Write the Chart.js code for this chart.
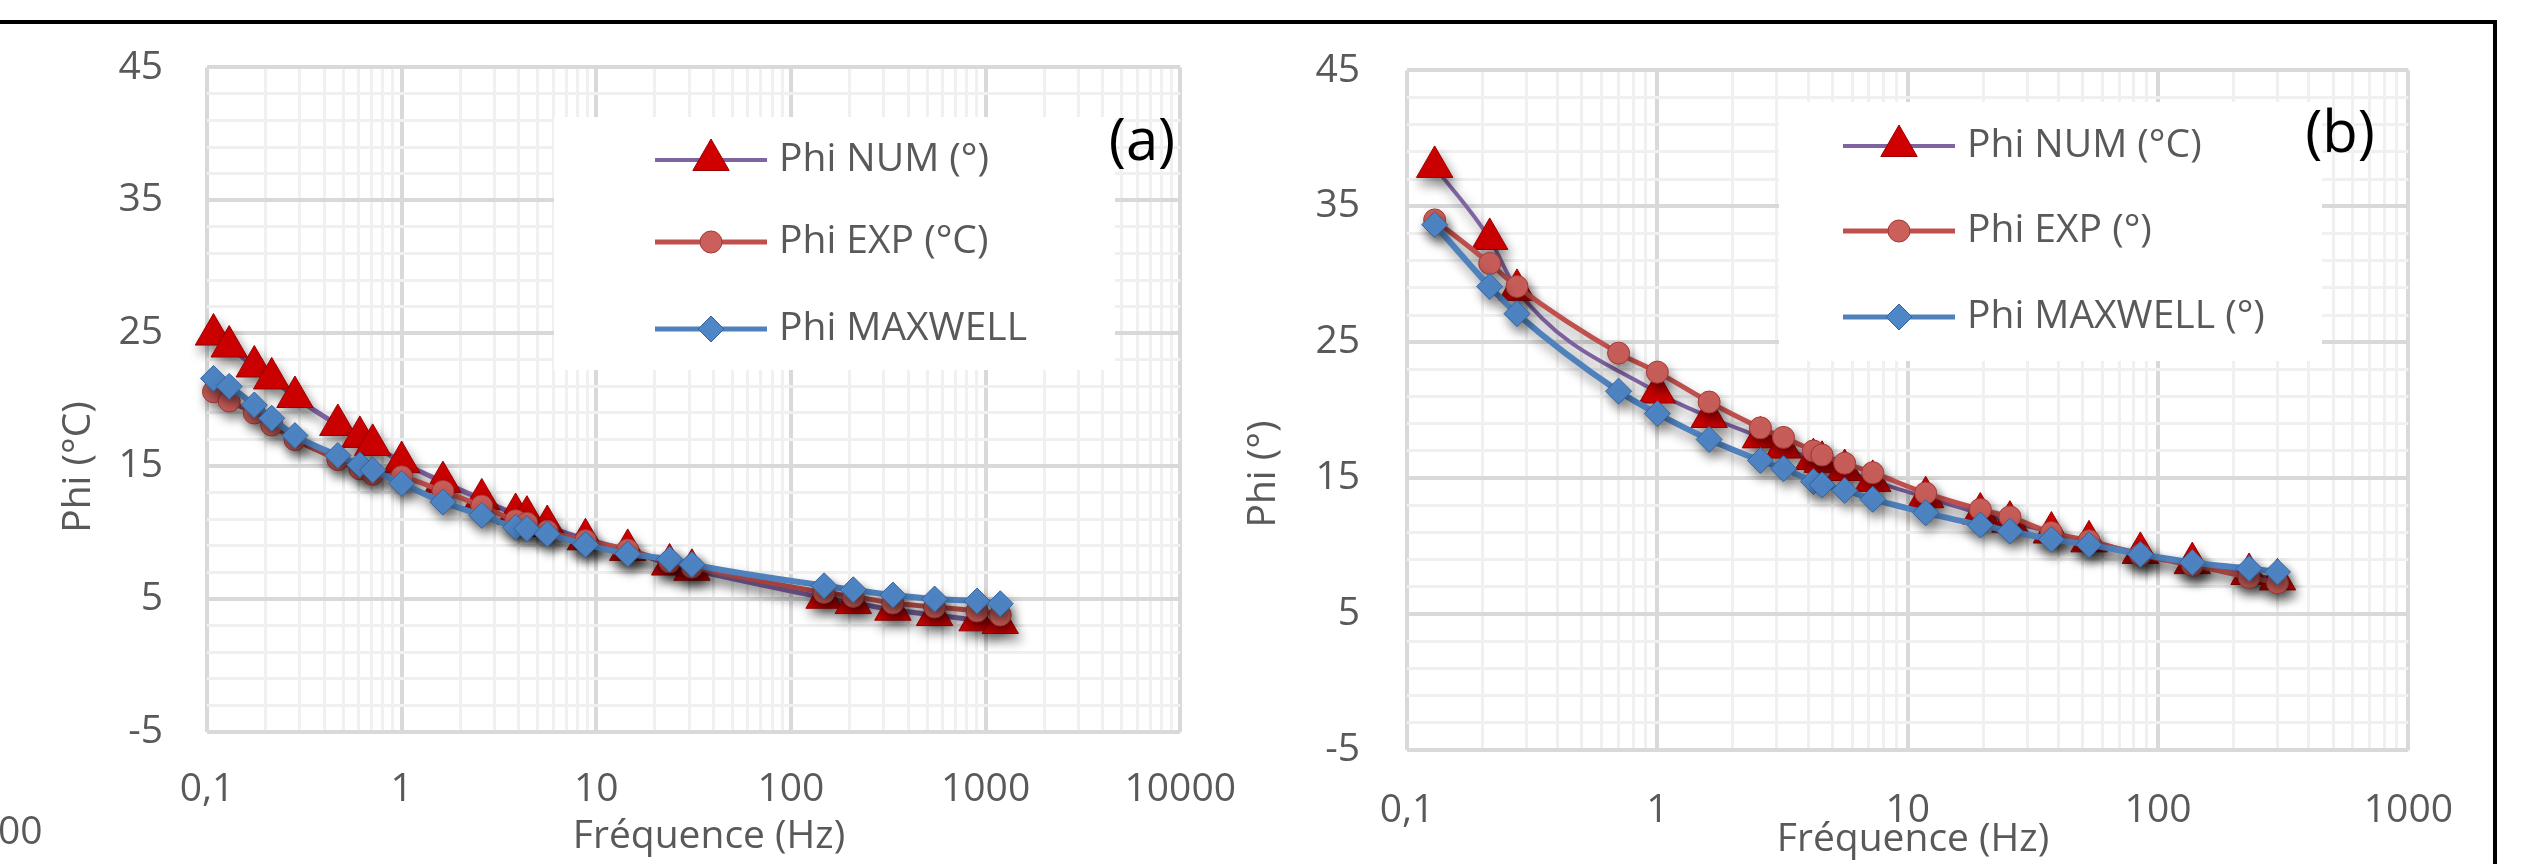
<!DOCTYPE html>
<html lang="fr">
<head>
    <meta charset="UTF-8">
    <title>Phi en fonction de la fréquence</title>
    <script src="https://cdn.jsdelivr.net/npm/chart.js"></script>
    <style>
        html, body {
            margin: 0;
            padding: 0;
            background: #fff;
        }
        body {
            width: 2532px;
            height: 864px;
            position: relative;
            overflow: hidden;
        }
        #frameTop {
            position: absolute;
            left: 0;
            top: 20px;
            width: 2497px;
            height: 4px;
            background: #000;
        }
        #frameRight {
            position: absolute;
            left: 2493px;
            top: 20px;
            width: 4px;
            height: 844px;
            background: #000;
        }
        canvas {
            position: absolute;
            top: 0;
        }
        #chartA { left: 0; }
        #chartB { left: 1230px; }
    </style>
</head>
<body>
    <div id="frameTop"></div>
    <div id="frameRight"></div>
    <canvas id="chartA" width="1270" height="864"></canvas>
    <canvas id="chartB" width="1260" height="864"></canvas>

    <script>
        // ---- chart (a) values ----
        const freqA = [0.108, 0.13, 0.175, 0.215, 0.283, 0.47, 0.61, 0.71, 1.0, 1.63, 2.58, 3.85, 4.4, 5.6, 8.8, 14.5, 23.8, 31, 148, 209, 334, 547, 904, 1189];
        const numA = [24.9, 24.0, 22.5, 21.6, 20.2, 18.1, 17.2, 16.6, 15.3, 13.8, 12.5, 11.4, 11.2, 10.5, 9.5, 8.7, 7.6, 7.2, 5.1, 4.7, 4.2, 3.8, 3.4, 3.2];
        const expA = [20.6, 19.9, 19.0, 18.1, 17.0, 15.5, 14.8, 14.4, 14.2, 13.1, 12.0, 10.9, 10.7, 10.1, 9.4, 8.7, 7.8, 7.4, 5.5, 5.2, 4.7, 4.4, 4.1, 3.8];
        const maxA = [21.6, 21.0, 19.6, 18.6, 17.3, 15.8, 15.1, 14.7, 13.7, 12.3, 11.3, 10.4, 10.3, 9.9, 9.1, 8.4, 8.0, 7.6, 6.0, 5.7, 5.3, 5.0, 4.85, 4.65];

        // ---- chart (b) values ----
        const freqB = [0.129, 0.214, 0.275, 0.70, 1.0, 1.61, 2.58, 3.19, 4.2, 4.55, 5.6, 7.25, 11.8, 19.5, 25.6, 37.5, 53, 85, 137, 231, 300];
        const freqBNum = [0.129, 0.214, 0.275, 1.0, 1.61, 2.58, 3.19, 4.2, 4.55, 5.6, 7.25, 11.8, 19.5, 25.6, 37.5, 53, 85, 137, 231, 300];
        const numB = [37.9, 32.6, 28.85, 21.3, 19.5, 18.0, 17.25, 16.4, 16.2, 15.6, 14.8, 13.6, 12.4, 11.8, 11.0, 10.35, 9.5, 8.75, 7.95, 7.55];
        const expB = [34.0, 30.8, 29.1, 24.2, 22.8, 20.6, 18.7, 18.0, 17.0, 16.7, 16.1, 15.4, 13.9, 12.7, 12.15, 11.0, 10.4, 9.35, 8.6, 7.7, 7.3];
        const maxB = [33.65, 29.1, 27.1, 21.4, 19.75, 17.85, 16.3, 15.7, 14.75, 14.5, 14.1, 13.45, 12.45, 11.55, 11.1, 10.5, 10.1, 9.4, 8.8, 8.35, 8.1];

        // ---- axes ----
        const decadesA = [0.1, 1, 10, 100, 1000, 10000];
        const decadeLabelsA = ['0,1', '1', '10', '100', '1000', '10000'];
        const decadesB = [0.1, 1, 10, 100, 1000];
        const decadeLabelsB = ['0,1', '1', '10', '100', '1000'];
        const yMin = -5, yMax = 45, yMinorStep = 2, yMajorStep = 10;

        const legendA = ['Phi NUM (°)', 'Phi EXP (°C)', 'Phi MAXWELL'];
        const legendB = ['Phi NUM (°C)', 'Phi EXP (°)', 'Phi MAXWELL (°)'];

        const TEXT = '#595959';
        const FONT = '"Open Sans", sans-serif';
        const GRID_MAJOR = '#d9d9d9';
        const GRID_MINOR = '#f0f0f0';

        const styles = {
            num: { line: '#8064A2', fill: '#D00000', edge: '#9A0000', shape: 'triangle', r: 21 },
            exp: { line: '#C0504D', fill: '#CB5F5B', edge: '#A13A37', shape: 'circle', r: 11 },
            max: { line: '#4F81BD', fill: '#4F86C6', edge: '#35649C', shape: 'rectRot', r: 13 }
        };

        function isDecade(v) {
            const l = Math.log10(v);
            return Math.abs(l - Math.round(l)) < 1e-9;
        }

        // minor + major positions for the log grid (1..9 x each decade)
        function logGrid(decades) {
            const vals = [];
            for (let i = 0; i < decades.length - 1; i++) {
                for (let m = 1; m < 10; m++) vals.push(+(m * decades[i]).toPrecision(6));
            }
            vals.push(decades[decades.length - 1]);
            return vals;
        }

        function pts(xs, ys) {
            return xs.map((x, i) => ({ x: x, y: ys[i] }));
        }

        function series(label, data, st, lineWidth, order) {
            return {
                label: label,
                data: data,
                showLine: true,
                borderColor: st.line,
                borderWidth: lineWidth,
                pointStyle: st.shape,
                pointRadius: st.r,
                pointHoverRadius: st.r,
                pointBackgroundColor: st.fill,
                pointBorderColor: st.edge,
                pointBorderWidth: 1,
                cubicInterpolationMode: 'monotone',
                clip: false,
                order: order
            };
        }

        // soft drop shadow under the series, like the Excel 3D markers
        const shadowPlugin = {
            id: 'shadow',
            beforeDatasetsDraw(chart) {
                const c = chart.ctx;
                c.save();
                c.shadowColor = 'rgba(0,0,0,0.42)';
                c.shadowBlur = 12;
                c.shadowOffsetX = 3;
                c.shadowOffsetY = 7;
            },
            afterDatasetsDraw(chart) {
                chart.ctx.restore();
            }
        };

        function drawLegend(ctx, L, labels) {
            const keys = ['num', 'exp', 'max'];
            const widths = [4, 5, 5];
            ctx.save();
            ctx.fillStyle = '#fff';
            ctx.fillRect(L.x, L.y, L.w, L.h);
            keys.forEach((k, i) => {
                const st = styles[k];
                const y = L.rows[i];
                ctx.strokeStyle = st.line;
                ctx.lineWidth = widths[i];
                ctx.beginPath();
                ctx.moveTo(L.line0, y);
                ctx.lineTo(L.line1, y);
                ctx.stroke();
                ctx.fillStyle = st.fill;
                ctx.strokeStyle = st.edge;
                ctx.lineWidth = 1;
                if (Chart.helpers && Chart.helpers.drawPoint) {
                    Chart.helpers.drawPoint(ctx, { pointStyle: st.shape, radius: st.r, rotation: 0, borderWidth: 1 }, L.mark, y);
                }
                ctx.fillStyle = TEXT;
                ctx.font = '39px ' + FONT;
                ctx.textAlign = 'left';
                ctx.textBaseline = 'middle';
                ctx.fillText(labels[i], L.text, y);
            });
            ctx.restore();
        }

        function decorPlugin(d) {
            return {
                id: 'decor',
                afterDraw(chart) {
                    const c = chart.ctx;
                    drawLegend(c, d.legend, d.legendLabels);
                    c.save();
                    c.fillStyle = TEXT;
                    c.font = '39px ' + FONT;
                    c.textAlign = 'center';
                    c.textBaseline = 'middle';
                    c.fillText('Fréquence (Hz)', d.xTitle[0], d.xTitle[1]);
                    c.save();
                    c.translate(d.yTitle[0], d.yTitle[1]);
                    c.rotate(-Math.PI / 2);
                    c.fillText(d.yTitleText, 0, 0);
                    c.restore();
                    if (d.extra) {
                        c.textAlign = 'left';
                        c.fillText(d.extra.text, d.extra.x, d.extra.y);
                    }
                    // panel tag sits on top of the legend box
                    c.fillStyle = '#000';
                    c.font = '58px ' + FONT;
                    c.textAlign = 'center';
                    c.fillText(d.tag, d.tagPos[0], d.tagPos[1]);
                    c.restore();
                }
            };
        }

        function makeChart(id, cfg) {
            const gridVals = logGrid(cfg.decades);
            const ctx = document.getElementById(id).getContext('2d');
            return new Chart(ctx, {
                type: 'scatter',
                data: { datasets: cfg.datasets },
                options: {
                    responsive: false,
                    animation: false,
                    layout: { padding: { top: cfg.top, right: cfg.right, left: 0, bottom: 0 } },
                    plugins: { legend: { display: false }, tooltip: { enabled: false } },
                    scales: {
                        x: {
                            type: 'logarithmic',
                            min: cfg.decades[0],
                            max: cfg.decades[cfg.decades.length - 1],
                            afterBuildTicks: s => {
                                s.ticks = gridVals.map(v => ({ value: v, major: isDecade(v) }));
                            },
                            afterFit: s => { s.height = cfg.xAxisHeight; },
                            border: { display: false },
                            grid: {
                                drawTicks: false,
                                color: c => (c.tick && isDecade(c.tick.value) ? GRID_MAJOR : GRID_MINOR),
                                lineWidth: c => (c.tick && isDecade(c.tick.value) ? 4 : 3)
                            },
                            ticks: {
                                autoSkip: false,
                                maxRotation: 0,
                                padding: cfg.xTickPad,
                                color: TEXT,
                                font: { family: FONT, size: 39 },
                                callback: v => {
                                    const i = cfg.decades.findIndex(d => Math.abs(v / d - 1) < 1e-6);
                                    return i >= 0 ? cfg.decadeLabels[i] : '';
                                }
                            }
                        },
                        y: {
                            min: yMin,
                            max: yMax,
                            afterFit: s => { s.width = cfg.yAxisWidth; },
                            border: { display: false },
                            grid: {
                                drawTicks: false,
                                color: c => (c.tick && (c.tick.value - yMin) % yMajorStep === 0 ? GRID_MAJOR : GRID_MINOR),
                                lineWidth: c => (c.tick && (c.tick.value - yMin) % yMajorStep === 0 ? 4 : 3)
                            },
                            ticks: {
                                stepSize: yMinorStep,
                                autoSkip: false,
                                padding: cfg.yTickPad,
                                color: TEXT,
                                font: { family: FONT, size: 39 },
                                callback: v => ((v - yMin) % yMajorStep === 0 ? String(v) : '')
                            }
                        }
                    }
                },
                plugins: [shadowPlugin, decorPlugin(cfg.decor)]
            });
        }

        makeChart('chartA', {
            decades: decadesA,
            decadeLabels: decadeLabelsA,
            top: 62, right: 57, yAxisWidth: 207, xAxisHeight: 132,
            yTickPad: 44, xTickPad: 34,
            datasets: [
                series(legendA[0], pts(freqA, numA), styles.num, 5, 3),
                series(legendA[1], pts(freqA, expA), styles.exp, 5, 2),
                series(legendA[2], pts(freqA, maxA), styles.max, 6, 1)
            ],
            decor: {
                xTitle: [709, 837],
                yTitle: [79, 467],
                yTitleText: 'Phi (°C)',
                tag: '(a)', tagPos: [1142, 143],
                extra: { text: '00', x: -2, y: 833 },
                legend: { x: 554, y: 117, w: 561, h: 253, rows: [160, 242, 329], line0: 655, line1: 767, mark: 711, text: 779 },
                legendLabels: legendA
            }
        });

        makeChart('chartB', {
            decades: decadesB,
            decadeLabels: decadeLabelsB,
            top: 50, right: 69, yAxisWidth: 177, xAxisHeight: 114,
            yTickPad: 47, xTickPad: 37,
            datasets: [
                series(legendB[0], pts(freqBNum, numB), styles.num, 4, 3),
                series(legendB[1], pts(freqB, expB), styles.exp, 5, 2),
                series(legendB[2], pts(freqB, maxB), styles.max, 6, 1)
            ],
            decor: {
                xTitle: [683, 840],
                yTitle: [34, 474],
                yTitleText: 'Phi (°)',
                tag: '(b)', tagPos: [1110, 135],
                legend: { x: 549, y: 102, w: 543, h: 259, rows: [146, 231, 317], line0: 613, line1: 725, mark: 669, text: 737 },
                legendLabels: legendB
            }
        });
    </script>
</body>
</html>
